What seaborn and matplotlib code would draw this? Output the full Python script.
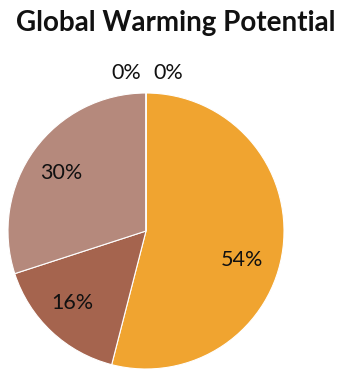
import matplotlib
matplotlib.use("Agg")
import matplotlib.pyplot as plt
import seaborn as sns

sns.set_theme(style="white")
plt.rcParams["font.family"] = ["Lato", "DejaVu Sans"]

# Share of global warming potential per component (percent), clockwise from 12 o'clock
shares = [54, 16, 30, 0, 0]
slice_colors = ["#F0A430", "#A5644E", "#B5897C", "#8C8C8C", "#5A6E9E"]
title = "Global Warming Potential"

W, H, DPI = 346, 375, 100
fig = plt.figure(figsize=(W / DPI, H / DPI), dpi=DPI)
fig.patch.set_facecolor("white")

# pie centre (146, 231) px, radius 138 px
cx, cy, r = 146, 231, 138
ax = fig.add_axes([(cx - r) / W, (H - cy - r) / H, 2 * r / W, 2 * r / H])

wedges, texts = ax.pie(
    shares,
    colors=slice_colors,
    startangle=90,
    counterclock=False,
    radius=1.0,
    wedgeprops=dict(edgecolor="white", linewidth=0.8),
    labels=[f"{v}%" for v in shares],
    labeldistance=0.74,
    textprops=dict(fontsize=15.5, color="#111111"),
)
ax.set_xlim(-1, 1)
ax.set_ylim(-1, 1)
ax.set_aspect("equal")
ax.axis("off")

# label placement (pixel offsets from centre, converted to pie units)
label_px = [(242, 260), (72, 303), (61, 173), (126, 73), (168, 73)]
for t, (px, py) in zip(texts, label_px):
    t.set_position(((px - cx) / r, (cy - py) / r))
    t.set_ha("center")
    t.set_va("center")

fig.text(176 / W, 1 - 23 / H, title, ha="center", va="center",
         fontsize=20, fontweight="bold", color="#111111")

fig.savefig("out.png", dpi=DPI, facecolor="white")
